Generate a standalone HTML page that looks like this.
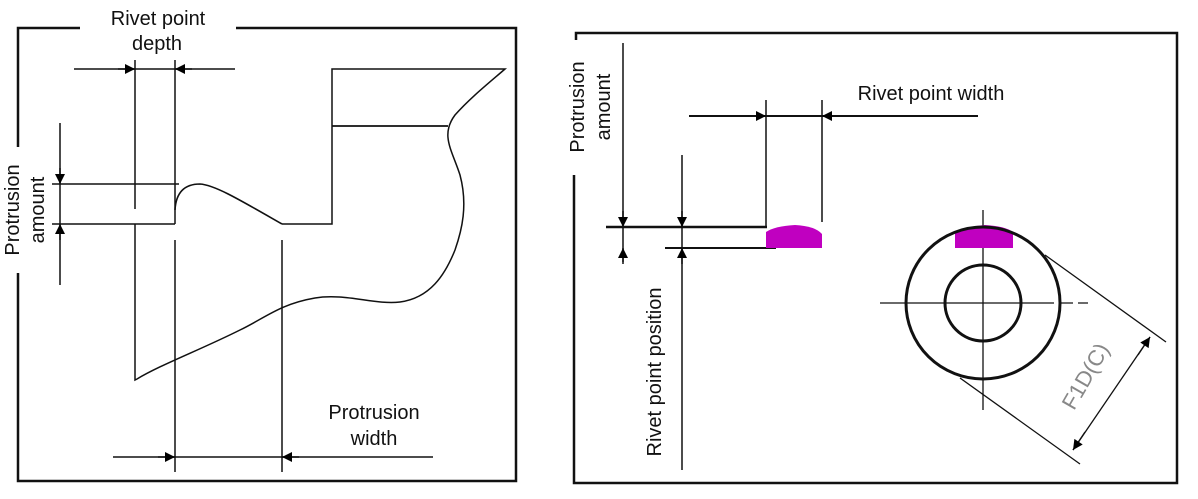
<!DOCTYPE html>
<html><head><meta charset="utf-8"><style>
html,body{margin:0;padding:0;background:#fff;}
svg{display:block;}
text{font-family:"Liberation Sans",sans-serif;fill:#111;}
</style></head><body>
<svg width="1198" height="499" viewBox="0 0 1198 499" xmlns="http://www.w3.org/2000/svg">
<defs>
<marker id="a" viewBox="0 0 10 10" refX="10" refY="5" markerWidth="12" markerHeight="10" orient="auto" markerUnits="userSpaceOnUse"><path d="M0,0 L10,5 L0,10 z" fill="#000"/></marker>
</defs>
<g stroke="#111" fill="none">
<path d="M80,28 H18 V147 M18,273 V481 H516 V28 H236" stroke-width="2.5"/>
<line x1="74" y1="69" x2="235" y2="69" stroke-width="1.5"/>
<line x1="118" y1="69" x2="135" y2="69" stroke-width="1.5" marker-end="url(#a)"/>
<line x1="192" y1="69" x2="175" y2="69" stroke-width="1.5" marker-end="url(#a)"/>
<line x1="135" y1="60" x2="135" y2="209" stroke-width="1.5"/>
<line x1="175" y1="60" x2="175" y2="224" stroke-width="1.5"/>
<line x1="60" y1="123" x2="60" y2="285" stroke-width="1.5"/>
<line x1="60" y1="168" x2="60" y2="184" stroke-width="1.5" marker-end="url(#a)"/>
<line x1="60" y1="240" x2="60" y2="224" stroke-width="1.5" marker-end="url(#a)"/>
<line x1="52" y1="184" x2="179" y2="184" stroke-width="1.5"/>
<line x1="52" y1="224" x2="175" y2="224" stroke-width="1.5"/>
<path d="M135,224 V380 L137,379 C160,365 200,350 240,330 C265,318 280,304 315,298 C345,293 375,305 400,302 C430,298 445,275 455,250 C462,230 468,205 460,175 C452,150 440,135 455,115 C470,98 490,82 505,69 H332 V224 H282" stroke-width="1.5"/>
<line x1="332" y1="126" x2="448" y2="126" stroke-width="1.8"/>
<path d="M175,210 C176,192 185,184 200,184 C215,185 240,200 282,224" stroke-width="1.6"/>
<line x1="175" y1="240" x2="175" y2="472" stroke-width="1.5"/>
<line x1="282" y1="240" x2="282" y2="472" stroke-width="1.5"/>
<line x1="113" y1="457" x2="433" y2="457" stroke-width="1.5"/>
<line x1="158" y1="457" x2="175" y2="457" stroke-width="1.5" marker-end="url(#a)"/>
<line x1="299" y1="457" x2="282" y2="457" stroke-width="1.5" marker-end="url(#a)"/>

<path d="M576,40 V33 H1177 V483 H574 V175" stroke-width="2.5"/>
<line x1="623" y1="43" x2="623" y2="262" stroke-width="1.5"/>
<line x1="623" y1="211" x2="623" y2="227" stroke-width="1.5" marker-end="url(#a)"/>
<line x1="623" y1="264" x2="623" y2="248" stroke-width="1.5" marker-end="url(#a)"/>
<line x1="606" y1="227" x2="767" y2="227" stroke-width="2.5"/>
<line x1="665" y1="248" x2="776" y2="248" stroke-width="2"/>
<line x1="682" y1="155" x2="682" y2="470" stroke-width="1.5"/>
<line x1="682" y1="211" x2="682" y2="227" stroke-width="1.5" marker-end="url(#a)"/>
<line x1="682" y1="264" x2="682" y2="248" stroke-width="1.5" marker-end="url(#a)"/>
<line x1="766" y1="100" x2="766" y2="227" stroke-width="1.5"/>
<line x1="822" y1="100" x2="822" y2="222" stroke-width="1.5"/>
<line x1="689" y1="116" x2="978" y2="116" stroke-width="2"/>
<line x1="748" y1="116" x2="766" y2="116" stroke-width="1.5" marker-end="url(#a)"/>
<line x1="840" y1="116" x2="822" y2="116" stroke-width="1.5" marker-end="url(#a)"/>
<line x1="880" y1="303" x2="1040" y2="303" stroke-width="1.3"/>
<line x1="1040" y1="303" x2="1088" y2="303" stroke-width="1.3" stroke-dasharray="14,5"/>
<line x1="983" y1="210" x2="983" y2="410" stroke-width="1.3"/>
<line x1="1045" y1="255" x2="1166" y2="342" stroke-width="1.3"/>
<line x1="960" y1="378" x2="1080" y2="464" stroke-width="1.3"/>
<line x1="1073" y1="450" x2="1150" y2="337" stroke-width="1.3"/>
<line x1="1085" y1="432" x2="1073" y2="450" stroke-width="1.3" marker-end="url(#a)"/>
<line x1="1138" y1="355" x2="1150" y2="337" stroke-width="1.3" marker-end="url(#a)"/>
</g>
<path d="M766,248 V232 Q775,226 795,225 Q815,226 822,234 V248 Z" fill="#c000c0"/>
<path d="M955,248 V232 Q968,226 985,225 Q1005,226 1013,232 V248 Z" fill="#c000c0"/>
<g fill="none" stroke="#111" stroke-width="3">
<ellipse cx="983" cy="303" rx="77" ry="76"/>
<ellipse cx="983" cy="303" rx="38" ry="38"/>
</g>
<text x="158" y="25" font-size="20" text-anchor="middle">Rivet point</text>
<text x="157" y="50" font-size="20" text-anchor="middle">depth</text>
<text transform="translate(19,210) rotate(-90)" font-size="20" text-anchor="middle">Protrusion</text>
<text transform="translate(44,210) rotate(-90)" font-size="20" text-anchor="middle">amount</text>
<text x="374" y="419" font-size="20" text-anchor="middle">Protrusion</text>
<text x="374" y="445" font-size="20" text-anchor="middle">width</text>
<text x="931" y="100" font-size="20" text-anchor="middle">Rivet point width</text>
<text transform="translate(584,107) rotate(-90)" font-size="20" text-anchor="middle">Protrusion</text>
<text transform="translate(610,107) rotate(-90)" font-size="20" text-anchor="middle">amount</text>
<text transform="translate(661,372) rotate(-90)" font-size="20" text-anchor="middle">Rivet point position</text>
<text transform="translate(1092,380) rotate(-60)" font-size="22" text-anchor="middle" style="fill:#888">F1D(C)</text>
</svg>
</body></html>
